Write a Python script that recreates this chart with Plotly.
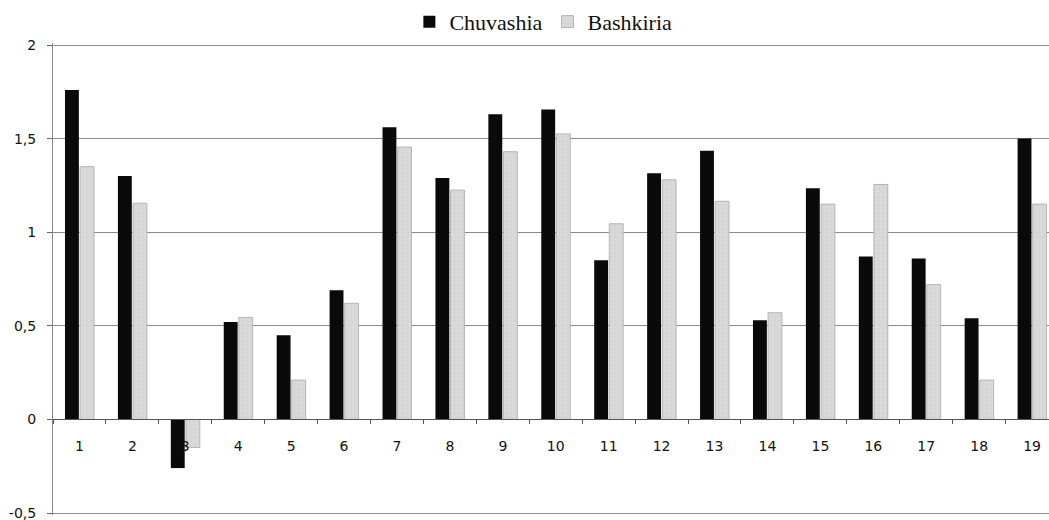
import plotly.graph_objects as go

categories = [str(i) for i in range(1, 20)]
chuvashia = [1.76, 1.30, -0.26, 0.52, 0.45, 0.69, 1.56, 1.29, 1.63, 1.655,
             0.85, 1.315, 1.435, 0.53, 1.235, 0.87, 0.86, 0.54, 1.50]
bashkiria = [1.35, 1.155, -0.15, 0.545, 0.21, 0.62, 1.455, 1.225, 1.43, 1.525,
             1.045, 1.28, 1.165, 0.57, 1.15, 1.255, 0.72, 0.21, 1.15]
y_tickvals = [-0.5, 0, 0.5, 1, 1.5, 2]
y_ticktext = ["-0,5", "0", "0,5", "1", "1,5", "2"]

# small padding so the edge gridlines (at -0.5 and 2) are not clipped
pad = 0.0107
y_lo, y_hi = -0.5 - pad, 2 + pad
zero_pos = (0 - y_lo) / (y_hi - y_lo)

fig = go.Figure()
fig.add_trace(go.Bar(
    x=categories, y=chuvashia, name="Chuvashia",
    marker=dict(color="#0a0a0a", line=dict(width=0)),
))
fig.add_trace(go.Bar(
    x=categories, y=bashkiria, name="Bashkiria",
    marker=dict(color="#d9d9d9", line=dict(color="#b5b5b5", width=1),
                pattern=dict(shape=".", fgcolor="#c4c4c4", size=4, solidity=0.15)),
))

fig.update_layout(
    width=1049, height=520,
    margin=dict(l=53, r=0, t=43, b=5, autoexpand=False),
    paper_bgcolor="white", plot_bgcolor="white",
    barmode="group", bargap=0.43, bargroupgap=0.08,
    font=dict(family="DejaVu Sans", size=14, color="#111111"),
    showlegend=True,
    legend=dict(
        orientation="h", xref="container", yref="container",
        x=0.518, xanchor="center", y=0.958, yanchor="middle",
        font=dict(family="Liberation Serif", size=22, color="#111111"),
        itemwidth=30, tracegroupgap=0,
    ),
    xaxis=dict(
        type="category", range=[-0.5, 18.32],
        anchor="free", position=zero_pos, automargin=False,
        showline=True, linecolor="#555555", linewidth=1,
        ticks="outside", ticklen=4, tickcolor="#555555", tickson="boundaries",
        showgrid=False, ticklabelstandoff=14,
        tickfont=dict(family="DejaVu Sans", size=14, color="#111111"),
    ),
    yaxis=dict(
        range=[y_lo, y_hi], tickvals=y_tickvals, ticktext=y_ticktext,
        automargin=False, ticklabeloverflow="allow",
        showline=True, linecolor="#888888", linewidth=1,
        ticks="outside", ticklen=5, tickcolor="#666666",
        showgrid=True, gridcolor="#8a8a8a", gridwidth=1,
        zeroline=True, zerolinecolor="#555555", zerolinewidth=1,
        tickfont=dict(family="DejaVu Sans", size=14, color="#111111"),
        ticklabelstandoff=8,
    ),
)

fig.write_html(
    "out.html",
    config={"displayModeBar": False},
    post_script="document.documentElement.style.overflow='hidden';"
                "document.body.style.margin='0';document.body.style.overflow='hidden';",
)
